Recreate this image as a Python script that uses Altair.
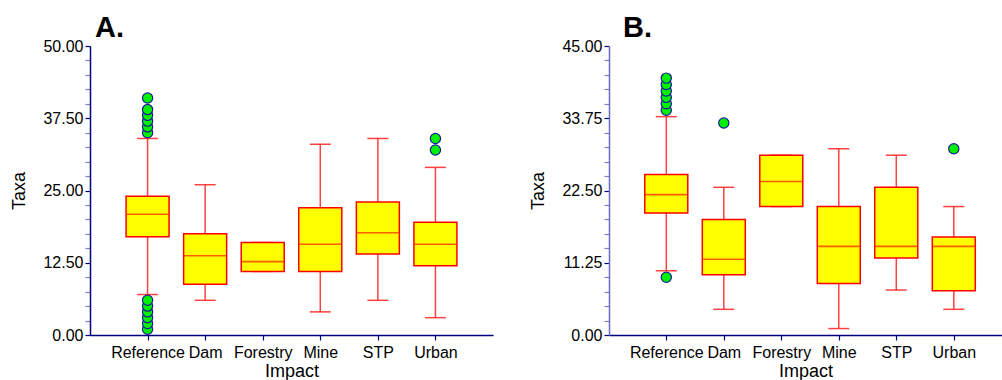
import altair as alt
import pandas as pd

FONT = "Liberation Sans"

categories = ["Reference", "Dam", "Forestry", "Mine", "STP", "Urban"]

# Panel A
a_lower = [7, 6, 11, 4, 6, 3]
a_q1 = [17, 8.8, 11, 11, 14, 12]
a_median = [20.9, 13.7, 12.7, 15.7, 17.7, 15.7]
a_q3 = [24, 17.5, 16, 22, 23, 19.5]
a_upper = [34, 26, 16, 33, 34, 29]
a_out_cat = ["Reference"] * 12 + ["Urban"] * 2
a_out_val = [1, 2, 3, 4, 5, 6, 35, 36, 37, 38, 39, 41, 32, 34]

# Panel B
b_lower = [10, 4, 20, 1, 7, 4]
b_q1 = [19, 9.4, 20, 8, 12, 6.9]
b_median = [21.85, 11.8, 23.9, 13.8, 13.8, 13.8]
b_q3 = [25, 18, 28, 20, 23, 15.25]
b_upper = [34, 23, 28, 29, 28, 20]
b_out_cat = ["Reference"] * 7 + ["Dam", "Urban"]
b_out_val = [9, 35, 36, 37, 38, 39, 40, 33, 29]

NAVY = "#000080"
MINOR = "#7f7fc4"


def panel(lo, q1, med, q3, hi, out_cat, out_val, ymax, major, label,
          title_dx, width, xscale, ydomain_color):
    box = pd.DataFrame({"Impact": categories, "lo": lo, "q1": q1,
                        "med": med, "q3": q3, "hi": hi})
    outs = pd.DataFrame({"Impact": out_cat, "v": out_val})
    step = major / 5
    n = int(round(ymax / step))
    tick_vals = [round(i * step, 4) for i in range(n + 1)]
    test = f"datum.value % {major} === 0"
    y_axis = alt.Axis(
        values=tick_vals,
        labelExpr=f"{test} ? format(datum.value, '.2f') : ''",
        labelOverlap=False,
        tickColor={"condition": {"test": test, "value": NAVY}, "value": MINOR},
        tickSize=5, tickWidth=1.2,
        domainColor=ydomain_color, domainWidth=1.5,
        labelFontSize=16, labelColor="black", labelPadding=2, labelFont=FONT,
        titleFontSize=18, titleFontWeight="normal", titleColor="black",
        titleFont=FONT, titlePadding=14, grid=False,
    )
    x_axis = alt.Axis(
        labelAngle=0, labelFontSize=16, labelColor="black", labelFont=FONT,
        labelPadding=4, tickSize=5, tickColor=NAVY, tickWidth=1.2,
        domainColor=NAVY, domainWidth=1.5,
        titleFontSize=18, titleFontWeight="normal", titleColor="black",
        titleFont=FONT, titlePadding=2, grid=False,
    )
    yscale = alt.Scale(domain=[0, ymax], nice=False, zero=True)

    def X():
        return alt.X("Impact:N", scale=xscale, axis=x_axis, title="Impact")

    def Y(f):
        return alt.Y(f, scale=yscale, axis=y_axis, title="Taxa")

    base = alt.Chart(box)
    whisk = base.mark_rule(color="#ff2020", strokeWidth=1.5, opacity=0.85).encode(
        x=X(), y=Y("lo:Q"), y2="hi:Q")
    cap_lo = base.mark_tick(color="#ff2020", size=21, thickness=1.5,
                            orient="horizontal", opacity=0.85).encode(x=X(), y=Y("lo:Q"))
    cap_hi = base.mark_tick(color="#ff2020", size=21, thickness=1.5,
                            orient="horizontal", opacity=0.85).encode(x=X(), y=Y("hi:Q"))
    bx = base.mark_bar(size=43, fill="#ffff00", stroke="#ff0000",
                       strokeWidth=1.5).encode(x=X(), y=Y("q1:Q"), y2="q3:Q")
    md = base.mark_tick(color="#ff1a00", size=43, thickness=1.6,
                        orient="horizontal").encode(x=X(), y=Y("med:Q"))
    pts = alt.Chart(outs).mark_point(filled=True, fill="#00ee00", stroke="#1a1a99",
                                     strokeWidth=1.2, size=105, opacity=1).encode(
        x=X(), y=Y("v:Q"))
    return alt.layer(whisk, cap_lo, cap_hi, bx, md, pts).properties(
        width=width, height=289,
        title=alt.TitleParams(text=label, anchor="start", frame="group",
                              fontSize=29, fontWeight="bold", font=FONT,
                              color="black", dx=title_dx, offset=-5),
    )


chart_a = panel(a_lower, a_q1, a_median, a_q3, a_upper, a_out_cat, a_out_val,
                50, 12.5, "A.", 5, 403,
                alt.Scale(type="point", domain=categories, padding=1), NAVY)
chart_b = panel(b_lower, b_q1, b_median, b_q3, b_upper, b_out_cat, b_out_val,
                45, 11.25, "B.", 14, 393,
                alt.Scale(type="point", domain=categories, padding=0.9174, align=0.543),
                "#6a6ac4")

chart = alt.hconcat(chart_a, chart_b, spacing=116, bounds="flush").properties(
    padding={"left": 10, "top": 14, "right": 0, "bottom": 0},
    background="white",
).configure_view(stroke=None)

chart.save("out.html", embed_options={"renderer": "svg", "actions": False})
